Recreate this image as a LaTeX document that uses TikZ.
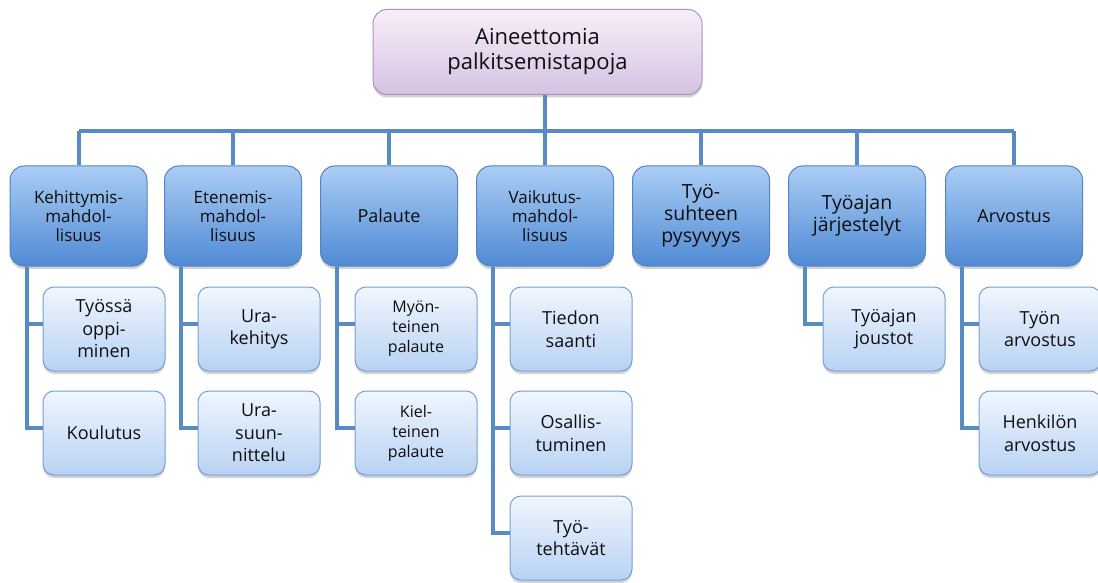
\documentclass[tikz,border=0pt]{standalone}
\usepackage{fontspec}
\setmainfont{Open Sans}
\usetikzlibrary{shadows,calc}
\definecolor{linecol}{RGB}{88,139,196}
\definecolor{toptop}{RGB}{247,238,250}
\definecolor{topbot}{RGB}{214,194,226}
\definecolor{topbrd}{RGB}{170,148,190}
\definecolor{cattop}{RGB}{170,205,245}
\definecolor{catbot}{RGB}{80,138,212}
\definecolor{catbrd}{RGB}{84,132,194}
\definecolor{subtop}{RGB}{240,246,254}
\definecolor{subbot}{RGB}{184,210,243}
\definecolor{subbrd}{RGB}{118,160,214}
\definecolor{txt}{RGB}{15,15,15}
\tikzset{
  conn/.style={draw=linecol, line width=4pt},
  boxbase/.style={rectangle, align=center, text=txt, inner sep=2pt,
    drop shadow={opacity=0.35, shadow xshift=0pt, shadow yshift=-3pt}},
  topbox/.style={boxbase, rounded corners=14pt, draw=topbrd, line width=1pt,
    top color=toptop, bottom color=topbot, minimum width=329pt, minimum height=85pt,
    font=\fontsize{22}{25}\selectfont},
  catbox/.style={boxbase, rounded corners=14pt, draw=catbrd, line width=1pt,
    top color=cattop, bottom color=catbot, minimum width=137pt, minimum height=100pt,
    font=\fontsize{17}{19}\selectfont},
  catmid/.style={catbox, font=\fontsize{18}{20}\selectfont},
  catbig/.style={catbox, font=\fontsize{19.5}{22}\selectfont},
  subbox/.style={boxbase, rounded corners=11pt, draw=subbrd, line width=1pt,
    top color=subtop, bottom color=subbot, minimum width=122pt, minimum height=84pt,
    font=\fontsize{18}{22.5}\selectfont},
  subsmall/.style={subbox, font=\fontsize{16}{20}\selectfont},
}
\begin{document}
\begin{tikzpicture}[x=1pt,y=-1pt]
\useasboundingbox (0,0) rectangle (1098,583);
% top
\node[topbox] (root) at (537.5,52) {Aineettomia\\palkitsemistapoja};
% categories
\node[catbox] (c1) at (78.5,216) {Kehittymis-\\mahdol-\\lisuus};
\node[catbox] (c2) at (233,216) {Etenemis-\\mahdol-\\lisuus};
\node[catmid] (c3) at (389,216) {Palaute};
\node[catbox] (c4) at (545,216) {Vaikutus-\\mahdol-\\lisuus};
\node[catbig] (c5) at (701,216) {Työ-\\suhteen\\pysyvyys};
\node[catbig] (c6) at (857,216) {Työajan\\järjestelyt};
\node[catmid] (c7) at (1014,216) {Arvostus};
% children
\node[subbox] (c1a) at (104,329) {Työssä\\oppi-\\minen};
\node[subbox] (c1b) at (104,433) {Koulutus};
\node[subbox] (c2a) at (259,329) {Ura-\\kehitys};
\node[subbox] (c2b) at (259,433) {Ura-\\suun-\\nittelu};
\node[subsmall] (c3a) at (416,329) {Myön-\\teinen\\palaute};
\node[subsmall] (c3b) at (416,433) {Kiel-\\teinen\\palaute};
\node[subbox] (c4a) at (571,329) {Tiedon\\saanti};
\node[subbox] (c4b) at (571,433) {Osallis-\\tuminen};
\node[subbox] (c4c) at (571,538) {Työ-\\tehtävät};
\node[subbox] (c6a) at (884,329) {Työajan\\joustot};
\node[subbox] (c7a) at (1040,329) {Työn\\arvostus};
\node[subbox] (c7b) at (1040,433) {Henkilön\\arvostus};
% bus
\coordinate (busL) at (c1.north |- 0,131);
\coordinate (busR) at (c7.north |- 0,131);
\draw[conn] (busL) -- (busR);
\draw[conn] (root.south -| c4.north) -- (c4.north);
\foreach \c in {c1,c2,c3,c5,c6,c7}{
  \draw[conn] (\c.north |- busL) -- (\c.north);
}
% child connectors
\foreach \p/\k in {c1/c1a,c1/c1b,c2/c2a,c2/c2b,c3/c3a,c3/c3b,c4/c4a,c4/c4b,c4/c4c,c6/c6a,c7/c7a,c7/c7b}{
  \draw[conn] ([xshift=17pt]\p.south west) |- ([yshift=5pt]\k.west);
}
\end{tikzpicture}
\end{document}
